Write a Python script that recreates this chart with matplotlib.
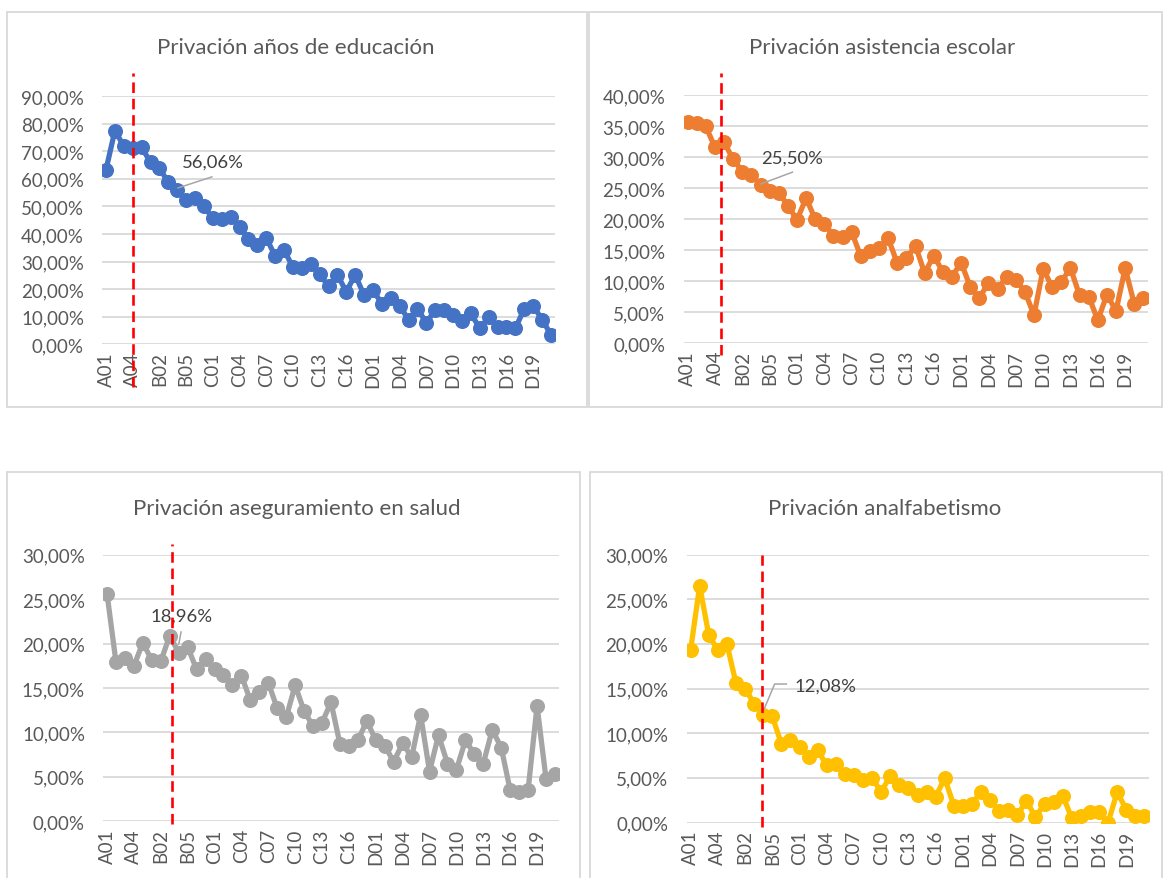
import matplotlib
matplotlib.use("Agg")
import matplotlib.pyplot as plt
from matplotlib.patches import Rectangle
from matplotlib.ticker import FuncFormatter, MultipleLocator

plt.rcParams["font.family"] = ["Lato", "DejaVu Sans"]

W, H = 1163, 879

# categorias: A01-A05, B01-B07, C01-C18, D01-D21
categorias = ([f"A{i:02d}" for i in range(1, 6)] + [f"B{i:02d}" for i in range(1, 8)]
              + [f"C{i:02d}" for i in range(1, 19)] + [f"D{i:02d}" for i in range(1, 22)])

anos_educacion = [63.3, 77.5, 71.8, 71.0, 71.4, 66.0, 63.9, 58.7, 56.06, 52.4,
                  53.2, 50.0, 45.7, 45.4, 46.3, 42.7, 38.1, 36.0, 38.7, 32.0,
                  34.2, 28.0, 27.6, 29.0, 25.4, 21.1, 25.2, 19.1, 25.2, 17.8,
                  19.6, 14.8, 16.8, 14.0, 8.9, 12.9, 7.8, 12.6, 12.5, 10.7,
                  8.4, 11.2, 5.8, 9.8, 6.2, 6.3, 5.8, 13.0, 14.0, 9.0, 3.5]

asistencia_escolar = [35.7, 35.6, 35.0, 31.6, 32.4, 29.7, 27.7, 27.2, 25.5, 24.5,
                      24.3, 22.2, 19.9, 23.4, 20.0, 19.3, 17.3, 17.2, 17.9, 14.0,
                      14.8, 15.4, 16.9, 12.9, 13.7, 15.7, 11.3, 14.1, 11.5, 10.7,
                      13.0, 9.1, 7.3, 9.7, 8.8, 10.6, 10.2, 8.3, 4.5, 12.0,
                      9.0, 9.9, 12.1, 7.7, 7.5, 3.7, 7.8, 5.2, 12.1, 6.3, 7.2]

aseguramiento_salud = [25.6, 17.9, 18.4, 17.5, 20.1, 18.1, 18.0, 20.9, 18.96, 19.6,
                       17.1, 18.3, 17.1, 16.5, 15.3, 16.4, 13.6, 14.5, 15.6, 12.7,
                       11.7, 15.3, 12.4, 10.7, 11.1, 13.4, 8.7, 8.5, 9.1, 11.3,
                       9.1, 8.5, 6.7, 8.8, 7.2, 12.0, 5.6, 9.7, 6.5, 5.8,
                       9.1, 7.6, 6.5, 10.3, 8.3, 3.5, 3.3, 3.5, 13.0, 4.8, 5.3]

analfabetismo = [19.3, 26.5, 21.0, 19.3, 20.0, 15.6, 15.0, 13.3, 12.08, 11.9,
                 8.8, 9.2, 8.5, 7.3, 8.1, 6.4, 6.5, 5.4, 5.3, 4.8,
                 4.95, 3.45, 5.2, 4.2, 3.85, 3.1, 3.4, 2.9, 4.95, 1.9,
                 1.9, 2.1, 3.45, 2.55, 1.25, 1.4, 0.8, 2.45, 0.6, 2.1,
                 2.25, 3.0, 0.5, 0.7, 1.15, 1.15, 0.0, 3.4, 1.45, 0.7, 0.7]

titulos = ["Privación años de educación", "Privación asistencia escolar",
           "Privación aseguramiento en salud", "Privación analfabetismo"]
series = [anos_educacion, asistencia_escolar, aseguramiento_salud, analfabetismo]
colores = ["#4472C4", "#ED7D31", "#A5A5A5", "#FFC000"]
y_max = [90, 40, 30, 30]
y_paso = [10, 5, 5, 5]
idx_etiqueta = 8  # B04

# pixel layout of each panel: (axes left, right, top, bottom), frame box, title centre
paneles = [
    dict(ax=(102, 555, 97, 345.4), box=(7, 587, 13, 408), tit=(296, 48)),
    dict(ax=(683.5, 1147.5, 96.4, 344), box=(589, 1162, 13, 408), tit=(882, 48)),
    dict(ax=(103, 559, 555.7, 822.3), box=(7, 580, 473, 884), tit=(297, 509)),
    dict(ax=(686.5, 1148.5, 555.5, 823.5), box=(589.5, 1162, 473, 884), tit=(885, 509)),
]

# red dashed marker: x position, y from, y to
cortes = [(3.0, -15.6, 98.3), (3.65, -1.9, 43.6), (7.25, -0.3, 31.2), (7.85, -0.5, 30.0)]

# data labels: text position, alignment, leader line points
etiquetas = [
    dict(txt=(12.0, 66.1), ha="center", linea=([8.1, 11.9], [56.7, 60.7])),
    dict(txt=(11.5, 29.9), ha="center", linea=([8.06, 11.5], [25.7, 27.6])),
    dict(txt=(8.28, 23.1), ha="center", linea=([8.0, 8.26], [19.9, 21.3])),
    dict(txt=(11.4, 15.3), ha="left", linea=([7.96, 9.26, 10.55], [12.35, 15.5, 15.5])),
]


def pct(v, _pos=None):
    return f"{v:.2f}".replace(".", ",") + "%"


fig = plt.figure(figsize=(W / 100, H / 100), dpi=100)
x = list(range(len(categorias)))

for i, p in enumerate(paneles):
    bx0, bx1, by0, by1 = p["box"]
    fig.add_artist(Rectangle((bx0 / W, 1 - by1 / H), (bx1 - bx0) / W, (by1 - by0) / H,
                             transform=fig.transFigure, fill=False, ec="#D9D9D9", lw=1.3))

    l, r, t, b = p["ax"]
    ax = fig.add_axes([l / W, 1 - b / H, (r - l) / W, (b - t) / H])
    ax.plot(x, series[i], color=colores[i], lw=3.8, marker="o", ms=9.8, zorder=3)

    ax.set_xlim(-0.45, len(categorias) - 0.55)
    ax.set_ylim(0, y_max[i])
    ax.yaxis.set_major_locator(MultipleLocator(y_paso[i]))
    ax.yaxis.set_major_formatter(FuncFormatter(pct))
    ax.set_xticks(x[::3])
    ax.set_xticklabels(categorias[::3], rotation=90)
    ax.tick_params(length=0, labelsize=13.5, labelcolor="#595959")
    ax.tick_params(axis="y", pad=13)
    ax.tick_params(axis="x", pad=5)
    ax.yaxis.grid(True, color="#D9D9D9", lw=1.3)
    ax.set_axisbelow(True)
    for s in ax.spines.values():
        s.set_visible(False)

    e = etiquetas[i]
    ax.plot(e["linea"][0], e["linea"][1], color="#A6A6A6", lw=1.1, zorder=4)
    ax.text(e["txt"][0], e["txt"][1], pct(series[i][idx_etiqueta]), ha=e["ha"], va="center",
            fontsize=13.3, color="#404040", zorder=5)

    cx, c0, c1 = cortes[i]
    ax.plot([cx, cx], [c0, c1], color="#FF0000", lw=1.9, ls=(0, (4, 2.2)),
            clip_on=False, zorder=6)

    tx, ty = p["tit"]
    fig.text(tx / W, 1 - ty / H, titulos[i], ha="center", va="center",
             fontsize=16, color="#595959")

fig.savefig("out.png", dpi=100)
